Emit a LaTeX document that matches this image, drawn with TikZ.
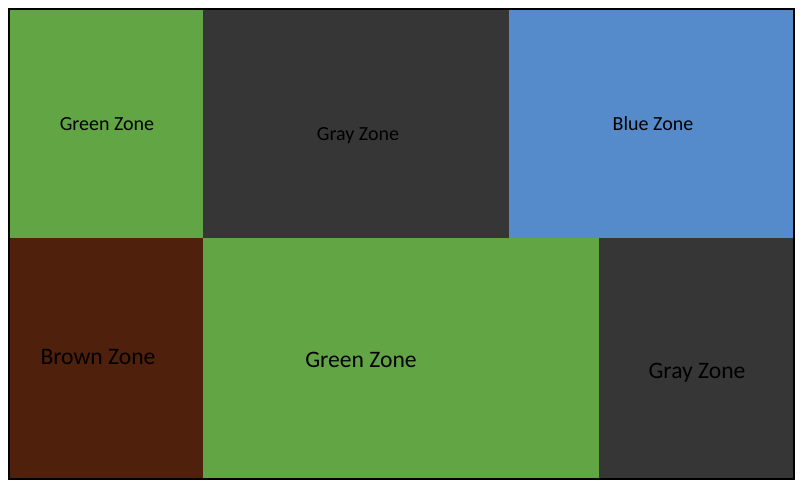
\documentclass[tikz,border=0pt]{standalone}
\usepackage{fontspec}
\setmainfont{Carlito}
\definecolor{zgreen}{RGB}{98,165,69}
\definecolor{zgray}{RGB}{54,54,54}
\definecolor{zblue}{RGB}{86,139,203}
\definecolor{zbrown}{RGB}{79,32,11}
\tikzset{
  small/.style={font=\fontsize{10}{12}\selectfont, text=black},
  big/.style={font=\fontsize{11.8}{14}\selectfont, text=black}
}
\begin{document}
\begin{tikzpicture}[x=0.5pt,y=-0.5pt]
\useasboundingbox (0,0) rectangle (804,487);
% Top row
\fill[zgreen] (9,9) rectangle (203,238);
\fill[zgray] (203,9) rectangle (509,238);
\fill[zblue] (509,9) rectangle (794,238);
% Bottom row
\fill[zbrown] (9,238) rectangle (203,479);
\fill[zgreen] (203,238) rectangle (599,479);
\fill[zgray] (599,238) rectangle (794,479);
\draw[line width=1.3pt] (9,9) rectangle (794,479);
\node[small] (g1) at (107,124) {Green Zone};
\node[small] (y1) at (358,136) {Gray Zone};
\node[small] (b1) at (653,124) {Blue Zone};
\node[big] (r2) at (98,357) {Brown Zone};
\node[big] (g2) at (361,360) {Green Zone};
\node[big] (y2) at (697,373) {Gray Zone};
\end{tikzpicture}
\end{document}
